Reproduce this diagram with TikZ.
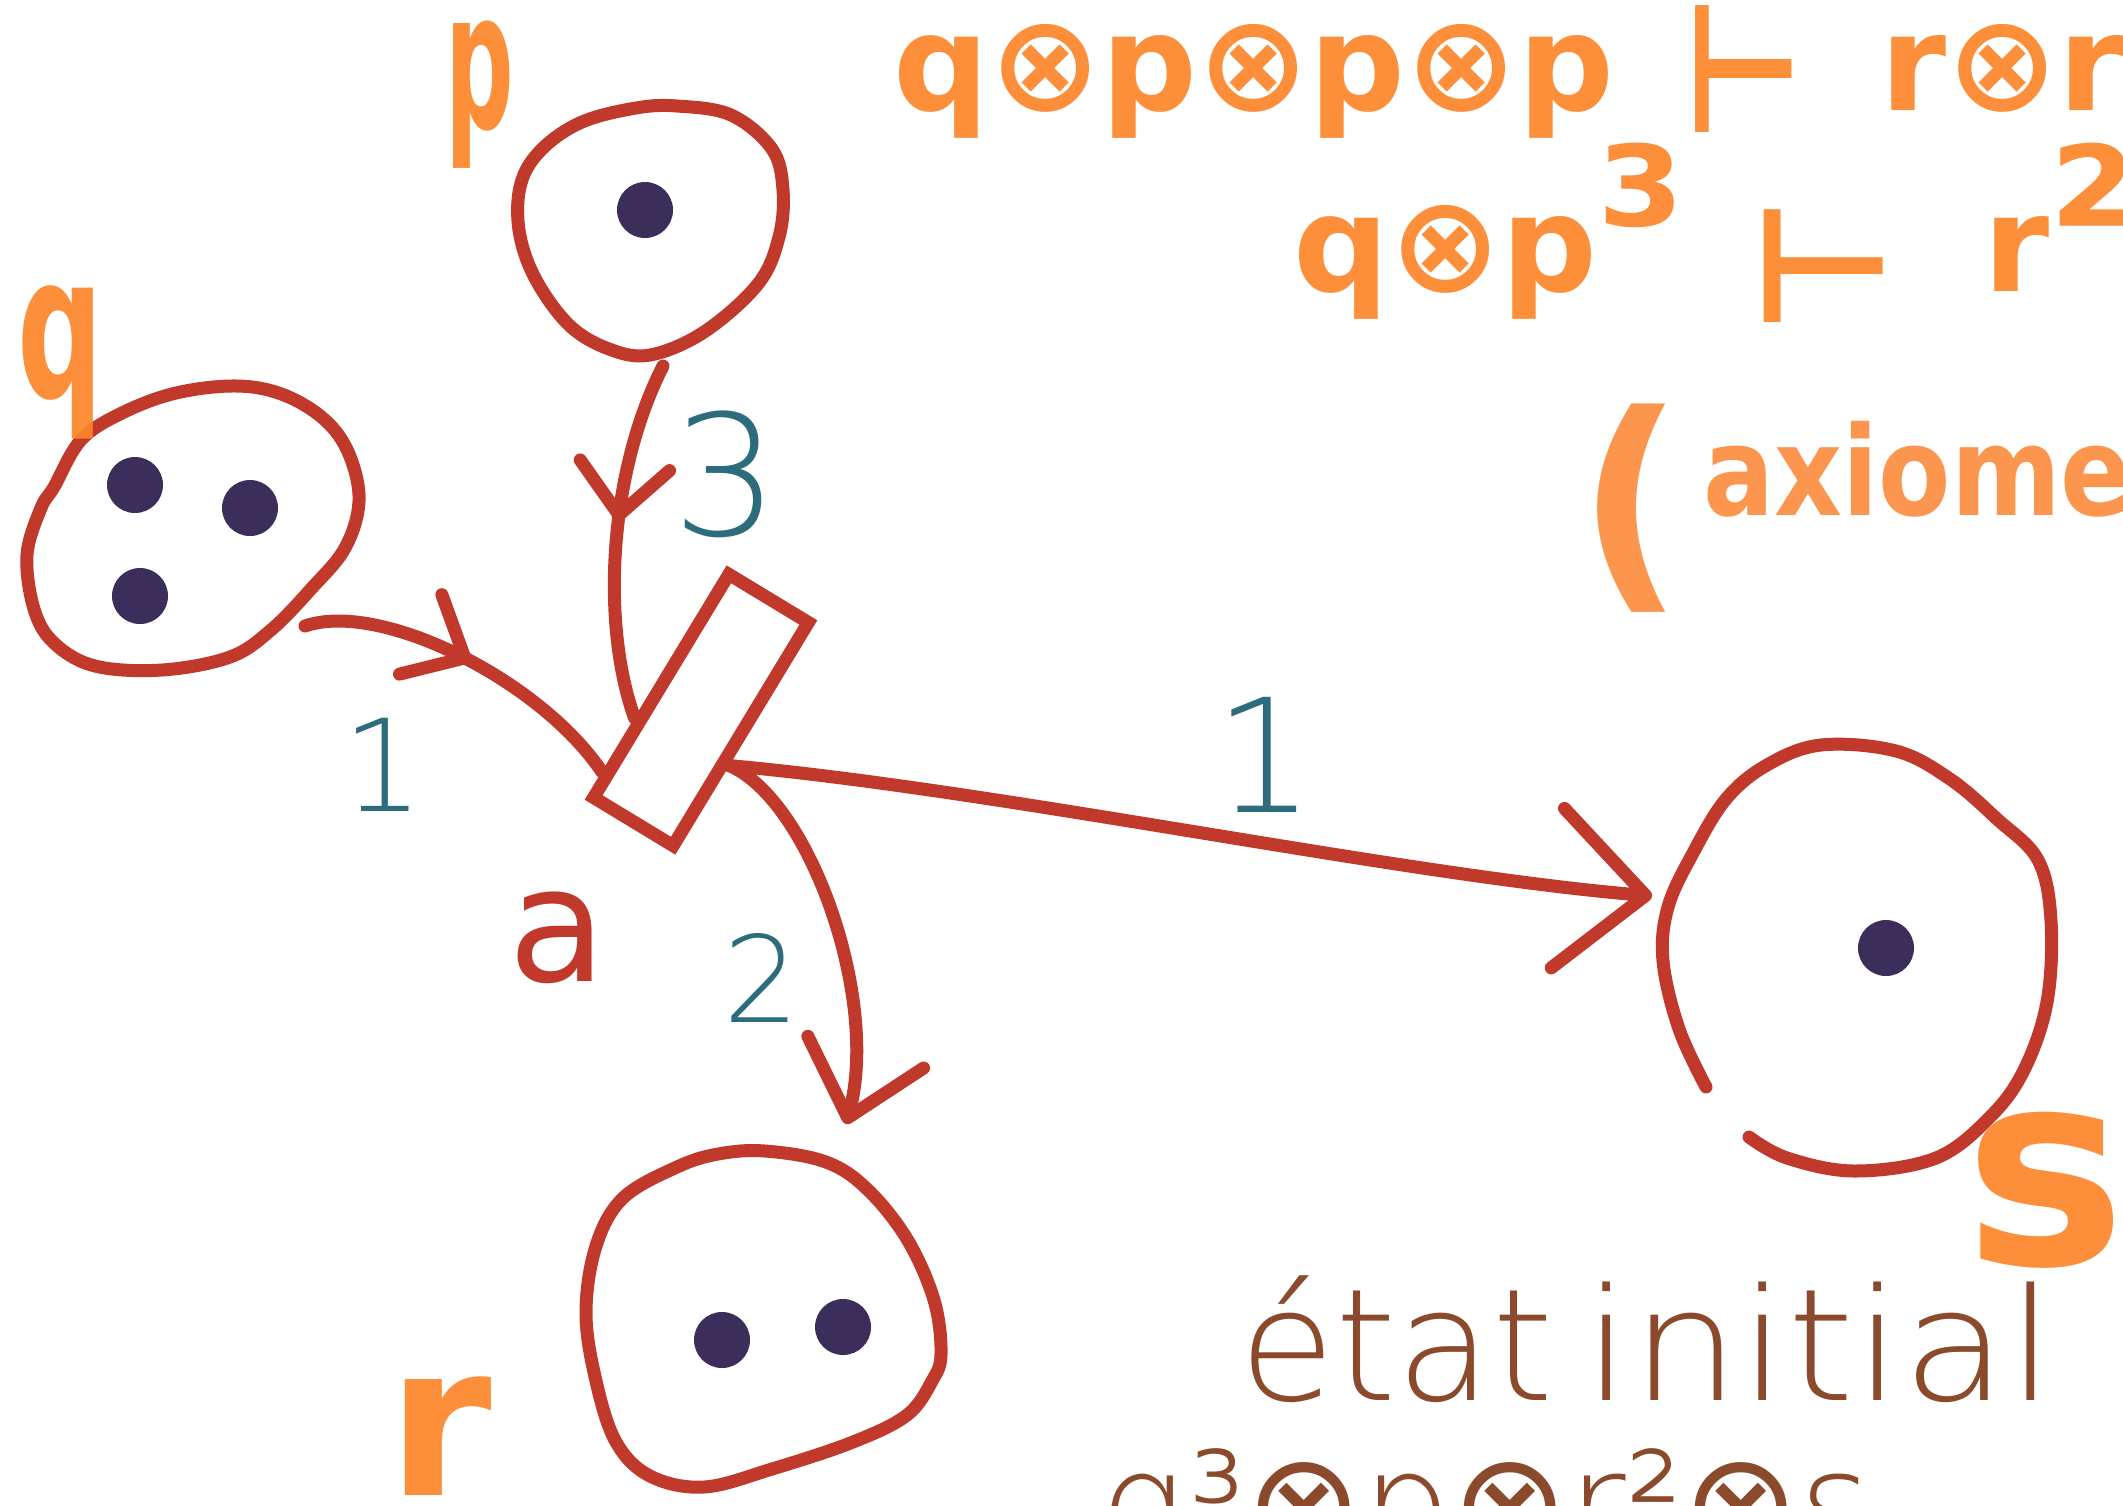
\documentclass[tikz,border=0pt]{standalone}
\usepackage{fontspec}
\setmainfont{DejaVu Sans}
\IfFontExistsTF{DejaVu Sans ExtraLight}{\newfontfamily\thinfont{DejaVu Sans ExtraLight}}{\newfontfamily\thinfont{DejaVu Sans}}
\usetikzlibrary{arrows.meta,decorations.markings,calc,shapes.geometric}
\definecolor{netred}{RGB}{192,57,43}
\definecolor{tokcol}{RGB}{60,46,90}
\definecolor{orng}{RGB}{253,134,42}
\definecolor{orngl}{RGB}{252,150,78}
\definecolor{tealc}{RGB}{45,108,124}
\definecolor{brn}{RGB}{139,74,43}
\newcommand{\fsz}[1]{\fontsize{#1}{#1}\selectfont}
\newcommand{\ox}{{\normalfont ⊗}}
\begin{document}
\begin{tikzpicture}[x=0.5pt,y=-0.5pt,
  net/.style={draw=netred, line width=6.5pt, line cap=round, line join=round},
  midbarb/.style={postaction={decorate}, decoration={markings, mark=at position #1 with {\arrow[netred, line width=6.5pt]{Straight Barb[length=25pt,width=45pt,round]}}}},
  tokenmark/.style={circle, fill=tokcol, minimum size=28pt, inner sep=0pt},
  place/.style={ellipse, draw=none, inner sep=0pt},
  trans/.style={rectangle, draw=netred, line width=6.5pt, minimum width=130.5pt, minimum height=46.5pt, rotate=58.8},
  otext/.style={text=orng, text opacity=0.92, inner sep=0pt},
  weight/.style={text=tealc, inner sep=0pt},
  btext/.style={text=brn, inner sep=0pt}
]
\useasboundingbox (0,0) rectangle (2123,1505);
\fill[white] (0,0) rectangle (2123,1505);
\clip (0,0) rectangle (2123,1505);

% places (anchors) and their hand-drawn outlines
\node[place, minimum width=130pt, minimum height=124pt] (p) at (650,230) {};
\node[place, minimum width=167pt, minimum height=142pt] (q) at (192,528) {};
\node[place, minimum width=176pt, minimum height=170pt] (r) at (765,1320) {};
\node[place, minimum width=196pt, minimum height=215pt] (s) at (1858,958) {};

\draw[net] plot[smooth cycle, tension=0.6] coordinates {(636,108) (677,106) (731,115) (772,149) (783,190) (779,237) (758,284) (704,332) (650,355) (609,349) (569,325) (535,278) (519,230) (521,183) (542,149) (582,122)};
\draw[net] plot[smooth cycle, tension=0.6] coordinates {(27,555) (34,609) (54,643) (95,666) (162,670) (230,657) (271,630) (311,589) (345,548) (359,501) (349,454) (325,420) (284,395) (237,386) (176,393) (122,413) (81,440) (54,487) (41,508)};
\draw[net] plot[smooth cycle, tension=0.6] coordinates {(765,1151) (826,1162) (867,1189) (907,1239) (934,1300) (941,1354) (932,1381) (907,1415) (853,1442) (772,1469) (704,1487) (650,1476) (616,1442) (596,1381) (586,1313) (596,1246) (623,1198) (677,1167) (718,1154)};
\draw[net] plot[smooth, tension=0.6] coordinates {(1706,1087) (1679,1029) (1663,961) (1668,907) (1693,853) (1726,799) (1767,765) (1821,745) (1896,751) (1950,779) (1997,819) (2038,860) (2051,921) (2047,1002) (2024,1070) (1990,1117) (1936,1158) (1855,1171) (1787,1158) (1749,1137)};

% tokens
\node[tokenmark] (tp) at (645,210) {};
\node[tokenmark] (tq1) at (135,485) {};
\node[tokenmark] (tq2) at (250,508) {};
\node[tokenmark] (tq3) at (140,596) {};
\node[tokenmark] (tr1) at (722,1340) {};
\node[tokenmark] (tr2) at (843,1327) {};
\node[tokenmark] (ts) at (1886,948) {};

% transition
\node[trans] (a) at (701,710) {};

\coordinate (qout) at (305,626);
\coordinate (pout) at (663,366);
\coordinate (ain1) at ($(a.north west)!0.12!(a.north east)$);
\coordinate (ain2) at ($(a.north west)!0.35!(a.north east)$);
\coordinate (aout) at ($(a.south west)!0.38!(a.south east)$);
\coordinate (rin) at (846,1124);
\coordinate (sin) at (1652,896);

% arcs
\draw[net, midbarb=0.5] (qout) .. controls (380,600) and (540,680) .. (ain1);
\draw[net, midbarb=0.45] (pout) .. controls (610,470) and (600,620) .. (ain2);
\draw[net, -{Straight Barb[length=34pt,width=60pt,round]}] (aout) .. controls (810,800) and (880,1000) .. (rin);
\draw[net, -{Straight Barb[length=44pt,width=80pt,round]}] (aout) .. controls (1000,790) and (1400,875) .. (sin);

% weights
\node[weight, font=\thinfont\fsz{64}] (w1) at (383,765) {1};
\node[weight, font=\thinfont\fsz{84}] (w3) at (726,474) {3};
\node[weight, font=\thinfont\fsz{60}] (w2) at (762,978) {2};
\node[weight, font=\thinfont\fsz{79}] (w4) at (1265,755) {1};

% transition name
\node[text=netred, inner sep=0pt, font=\fsz{80}] (la) at (558,938) {a};

% place names
\node[otext, font=\bfseries\fsz{100}] (lq) at (60,362) {\scalebox{0.6}[1]{q}};
\node[otext, font=\bfseries\fsz{96}] (lp) at (480,95) {\scalebox{0.5}[1]{p}};
\node[otext, font=\bfseries\fsz{106}] (lr) at (440,1436) {r};
\node[otext, font=\bfseries\fsz{136}] (ls) at (2045,1190) {s};

% formulas
\node[otext, anchor=base west, font=\bfseries\fsz{67}] (f1a) at (893,110) {q⊗p⊗p⊗p};
\node[otext, anchor=base west, font=\bfseries\fsz{90}] (f1b) at (1684,132) {\scalebox{0.72}[1]{⊢}};
\node[otext, anchor=base west, font=\bfseries\fsz{67}] (f1c) at (1880,110) {r⊗r};
\node[otext, anchor=base west, font=\bfseries\fsz{67}] (f2a) at (1293,291) {q⊗p{\fsz{100}³}};
\node[otext, anchor=base west, font=\bfseries\fsz{80}] (f2b) at (1750,322) {⊢};
\node[otext, anchor=base west, font=\bfseries\fsz{67}] (f2c) at (1983,291) {r{\fsz{100}²}};
\node[text=orngl, inner sep=0pt, font=\bfseries\fsz{117}] (f3a) at (1631,508) {(};
\node[text=orngl, inner sep=0pt, anchor=base west, font=\bfseries\fsz{62}] (f3b) at (1703,515) {\scalebox{0.85}[1]{axiome}};

% initial state
\node[btext, anchor=base west, font=\thinfont\fsz{78}] (ei) at (1239,1400) {état\hspace{15pt}\scalebox{1.1}[1]{initial}};
\node[btext, anchor=base west, font=\thinfont\fsz{70}] (m0) at (1100,1552) {q³\ox p\ox r²\ox s};
\end{tikzpicture}
\end{document}
